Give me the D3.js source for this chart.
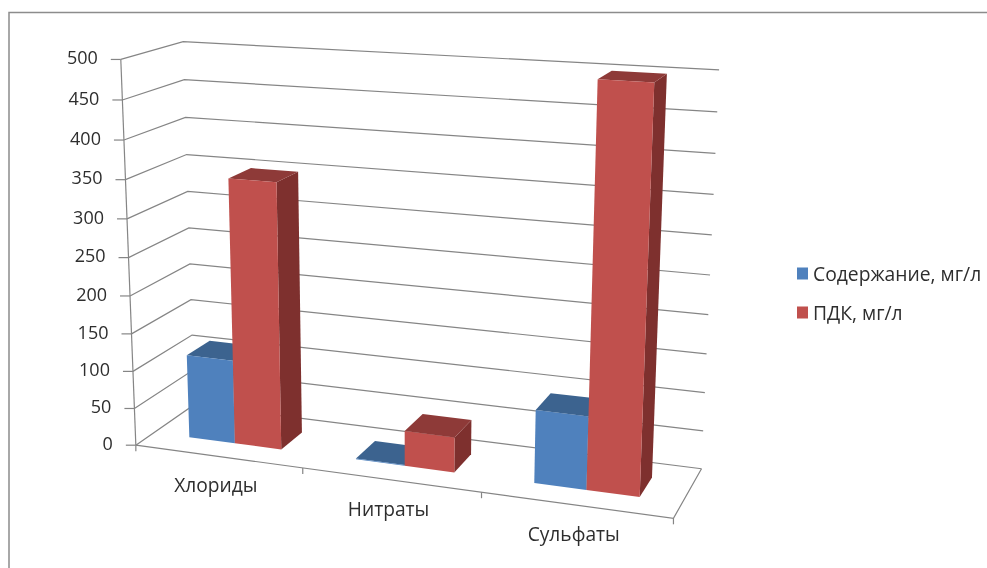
<!DOCTYPE html>
<html>
<head>
<meta charset="utf-8">
<script src="https://cdn.jsdelivr.net/npm/d3@7"></script>
<style>
  html, body { margin: 0; padding: 0; background: #fff; }
  svg { display: block; filter: blur(0.45px); }
  text { font-family: "Open Sans", sans-serif; fill: #2e2e2e; }
</style>
</head>
<body>
<div id="chart"></div>
<script>
const categories = ["Хлориды", "Нитраты", "Сульфаты"];
const seriesNames = ["Содержание, мг/л", "ПДК, мг/л"];
const contentValues = [112, 1, 94];
const limitValues = [350, 46, 500];
const valueTicks = [0, 50, 100, 150, 200, 250, 300, 350, 400, 450, 500];

const width = 987;
const height = 568;
const gridColor = "#858585";
const seriesColors = [
  { front: "#4f81bd", top: "#3c638f", side: "#3c638f" },
  { front: "#c0504d", top: "#8e3a38", side: "#7e302e" },
];

// picture position of the box corners: [along, depth, up, x, y]
const corners = [
  [0, 0, 0, 137, 445],
  [0, 0, 1, 120, 59],
  [0, 1, 0, 193, 405],
  [0, 1, 1, 184, 42],
  [1, 0, 0, 673, 519],
  [1, 1, 0, 702, 468],
  [1, 1, 1, 719, 70],
];

// least squares for the perspective matrix of the box
const solveProjection = () => {
  const rows = [];
  corners.forEach(([a, d, u, x, y]) => {
    rows.push([a, d, u, 1, 0, 0, 0, 0, -a * x, -d * x, -u * x, x]);
    rows.push([0, 0, 0, 0, a, d, u, 1, -a * y, -d * y, -u * y, y]);
  });
  const n = 11;
  const m = d3.range(n).map((i) =>
    d3.range(n + 1).map((j) => d3.sum(rows, (r) => r[i] * r[j]))
  );
  for (let c = 0; c < n; c++) {
    let best = c;
    for (let r = c + 1; r < n; r++) {
      if (Math.abs(m[r][c]) > Math.abs(m[best][c])) best = r;
    }
    [m[c], m[best]] = [m[best], m[c]];
    for (let r = 0; r < n; r++) {
      if (r === c) continue;
      const f = m[r][c] / m[c][c];
      for (let k = c; k <= n; k++) m[r][k] -= f * m[c][k];
    }
  }
  return m.map((row, i) => row[n] / row[i]);
};

const p = solveProjection();
const project = (a, d, u) => {
  const w = p[8] * a + p[9] * d + p[10] * u + 1;
  return [
    (p[0] * a + p[1] * d + p[2] * u + p[3]) / w,
    (p[4] * a + p[5] * d + p[6] * u + p[7]) / w,
  ];
};

const xScale = d3
  .scaleBand()
  .domain(categories)
  .range([0, 1])
  .paddingInner(0.44)
  .paddingOuter(0.22);
const seriesScale = d3
  .scaleBand()
  .domain(seriesNames)
  .range([0, xScale.bandwidth()]);
const yScale = d3.scaleLinear().domain([0, 500]).range([0, 1]);
const barDepth = [0.3, 0.7];

const line = d3.line();
const svg = d3
  .select("#chart")
  .append("svg")
  .attr("width", width)
  .attr("height", height);

// frame, open on the right
svg
  .append("path")
  .attr("d", `M9,${height}V12.5H${width}`)
  .attr("fill", "none")
  .attr("stroke", "#8c8c8c")
  .attr("stroke-width", 1.5);

// gridlines on the side and back walls
const grid = svg
  .append("g")
  .attr("fill", "none")
  .attr("stroke", gridColor)
  .attr("stroke-width", 1.2);
valueTicks.forEach((t) => {
  const u = yScale(t);
  grid
    .append("path")
    .attr("d", line([project(0, 0, u), project(0, 1, u), project(1, 1, u)]));
});

// floor and axes
const axes = svg
  .append("g")
  .attr("fill", "none")
  .attr("stroke", gridColor)
  .attr("stroke-width", 1.2);
axes
  .append("path")
  .attr("d", line([project(0, 0, 0), project(1, 0, 0), project(1, 1, 0)]));
axes.append("path").attr("d", line([project(0, 0, 0), project(0, 0, 1)]));

valueTicks.forEach((t) => {
  const [x, y] = project(0, 0, yScale(t));
  axes.append("path").attr("d", line([[x - 10, y], [x, y]]));
  svg
    .append("text")
    .attr("x", x - 23)
    .attr("y", y - 1.5)
    .attr("dy", "0.35em")
    .attr("text-anchor", "end")
    .attr("font-size", 18)
    .text(t);
});

d3.range(categories.length + 1).forEach((i) => {
  const [x, y] = project(i / categories.length, 0, 0);
  axes.append("path").attr("d", line([[x, y], [x, y + 6]]));
});

// bars
const drawBar = (category, name, value, colors) => {
  const a0 = xScale(category) + seriesScale(name);
  const a1 = a0 + seriesScale.bandwidth();
  const [d0, d1] = barDepth;
  const u = yScale(value);
  const bar = svg.append("g");
  bar
    .append("path")
    .attr("fill", colors.side)
    .attr(
      "d",
      line([project(a1, d0, 0), project(a1, d1, 0), project(a1, d1, u), project(a1, d0, u)]) + "Z"
    );
  bar
    .append("path")
    .attr("fill", colors.top)
    .attr(
      "d",
      line([project(a0, d0, u), project(a1, d0, u), project(a1, d1, u), project(a0, d1, u)]) + "Z"
    );
  bar
    .append("path")
    .attr("fill", colors.front)
    .attr(
      "d",
      line([project(a0, d0, 0), project(a1, d0, 0), project(a1, d0, u), project(a0, d0, u)]) + "Z"
    );
};

categories.forEach((category, i) => {
  drawBar(category, seriesNames[0], contentValues[i], seriesColors[0]);
  drawBar(category, seriesNames[1], limitValues[i], seriesColors[1]);

  const mid = xScale(category) + xScale.bandwidth() / 2;
  const [x, y] = project(mid, 0, 0);
  svg
    .append("text")
    .attr("x", x - 2)
    .attr("y", y + 29)
    .attr("dy", "0.35em")
    .attr("text-anchor", "middle")
    .attr("font-size", 19.2)
    .text(category);
});

// legend
const legendY = d3.scalePoint().domain(seriesNames).range([274, 313]);
seriesNames.forEach((name, i) => {
  svg
    .append("rect")
    .attr("x", 797)
    .attr("y", legendY(name) - 6.5)
    .attr("width", 11)
    .attr("height", 12)
    .attr("fill", seriesColors[i].front);
  svg
    .append("text")
    .attr("x", 813)
    .attr("y", legendY(name))
    .attr("dy", "0.35em")
    .attr("font-size", 19.3)
    .text(name);
});
</script>
</body>
</html>
